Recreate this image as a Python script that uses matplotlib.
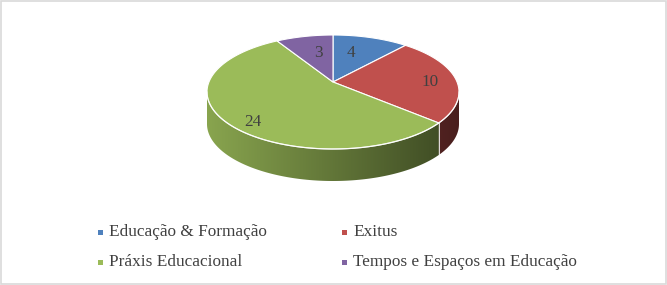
import numpy as np
import matplotlib
matplotlib.use("Agg")
import matplotlib.pyplot as plt
from matplotlib.patches import Polygon, Rectangle

# ---- data ----
categories = ["Educação & Formação", "Exitus", "Práxis Educacional", "Tempos e Espaços em Educação"]
values = [4, 10, 24, 3]
colors = ["#4F81BD", "#C0504D", "#9BBB59", "#8064A2"]

W, H = 667, 285
fig = plt.figure(figsize=(W / 100, H / 100), dpi=100)
ax = fig.add_axes([0, 0, 1, 1])
ax.set_xlim(0, W)
ax.set_ylim(H, 0)
ax.axis("off")

FONT = ["Liberation Serif", "DejaVu Serif"]
TXT = "#404040"

# pie geometry (pixel space)
cx, cy, rx, ry = 333.0, 92.0, 126.0, 57.0
apex = (333.0, 82.0)
D = 32.0


def pt(theta, dy=0.0):
    t = np.radians(theta)
    return cx + rx * np.sin(t), cy - ry * np.cos(t) + dy


def arc(a, b, dy=0.0, n=None):
    if n is None:
        n = max(4, int(abs(b - a) * 2))
    th = np.linspace(a, b, n)
    t = np.radians(th)
    return np.column_stack([cx + rx * np.sin(t), cy - ry * np.cos(t) + dy])


total = float(sum(values))
bounds = np.concatenate([[0], np.cumsum(values)]) / total * 360.0

# sides (visible from 90 to 270 deg)
xmin, xmax = cx - rx, cx + rx
for i, col in enumerate(colors):
    a, b = bounds[i], bounds[i + 1]
    lo, hi = max(a, 90.0), min(b, 270.0)
    if hi <= lo:
        continue
    top = arc(lo, hi)
    bot = arc(hi, lo, dy=D)
    poly = np.vstack([top, bot])
    patch = Polygon(poly, closed=True, facecolor="none", edgecolor="none")
    ax.add_patch(patch)
    base = np.array(matplotlib.colors.to_rgb(col))
    xs = np.linspace(0, 1, 300)
    fac = 0.88 - 0.50 * xs
    img = (base[None, :] * fac[:, None])[None, :, :]
    im = ax.imshow(np.clip(img, 0, 1), extent=(xmin, xmax, cy + ry + D + 2, cy - 5),
                   aspect="auto", interpolation="bilinear", zorder=1)
    im.set_clip_path(patch)
    # boundary lines on side
    for th in (lo, hi):
        if th in (a, b) and 90 < th < 270:
            x0, y0 = pt(th)
            ax.plot([x0, x0], [y0, y0 + D], color="white", lw=0.7, alpha=0.6, zorder=2)

# top wedges
for i, col in enumerate(colors):
    a, b = bounds[i], bounds[i + 1]
    poly = np.vstack([[apex], arc(a, b)])
    ax.add_patch(Polygon(poly, closed=True, facecolor=col, edgecolor="white",
                         lw=0.8, joinstyle="round", zorder=3))

# front highlight of top face
fr = arc(90, 270)
ax.plot(fr[:, 0], fr[:, 1], color="white", lw=0.9, alpha=0.75, zorder=4)

# data labels
label_pos = [(351, 53), (430, 82), (253, 122), (318, 53)]
for (lx, ly), v in zip(label_pos, values):
    ax.text(lx, ly, str(v), ha="center", va="center", fontsize=12.3,
            family=FONT, color=TXT, zorder=5)

# legend
leg_pos = [(100, 232), (344, 232), (100, 262), (344, 262)]
for (mx, my), name, col in zip(leg_pos, categories, colors):
    ax.add_patch(Rectangle((mx - 2.5, my - 2.5), 5, 5, facecolor=col, edgecolor="none"))
    ax.text(mx + 9, my, name, ha="left", va="center", fontsize=12.4,
            family=FONT, color=TXT)

# outer border
ax.add_patch(Rectangle((0.5, 0.5), W - 1.5, H - 1.5, facecolor="none",
                       edgecolor="#D9D9D9", lw=1.2))

fig.savefig("out.png", dpi=100)
